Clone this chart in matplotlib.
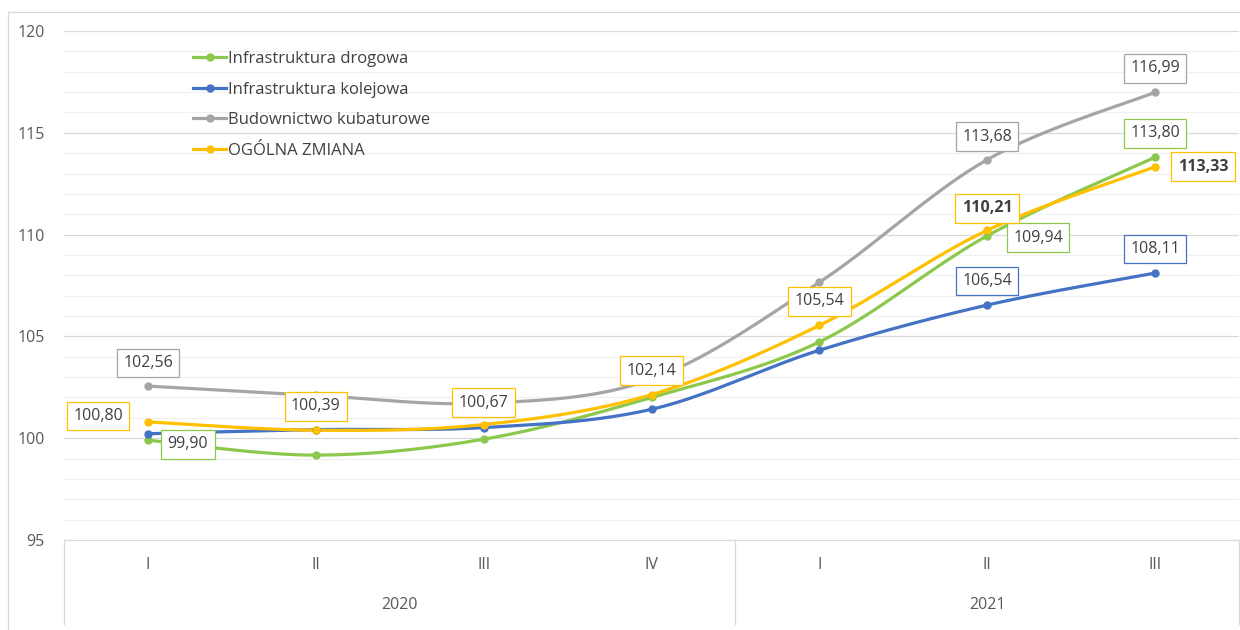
import numpy as np
import matplotlib.pyplot as plt
from matplotlib.lines import Line2D

plt.rcParams['font.family'] = ['Open Sans', 'DejaVu Sans']

quarters = ["I", "II", "III", "IV", "I", "II", "III"]
years = ["2020", "2021"]
year_span = [(0, 3), (4, 6)]

drogowa = [99.90, 99.17, 99.95, 102.00, 104.73, 109.94, 113.80]
kolejowa = [100.22, 100.42, 100.52, 101.42, 104.32, 106.54, 108.11]
kubaturowe = [102.56, 102.10, 101.72, 102.90, 107.66, 113.68, 116.99]
ogolna = [100.80, 100.39, 100.67, 102.14, 105.54, 110.21, 113.33]

names = ["Infrastruktura drogowa", "Infrastruktura kolejowa",
         "Budownictwo kubaturowe", "OGÓLNA ZMIANA"]
colors = ["#8cc84b", "#4472c4", "#a5a5a5", "#ffc000"]

# which points get a data label: (index, dx px, dy px, bold)
labels = [
    [(0, 40, -4, False), (5, 51, -2, False), (6, 0, 24, False)],
    [(5, 0, 24, False), (6, 0, 24, False)],
    [(0, 0, 23, False), (5, 0, 23, False), (6, 0, 24, False)],
    [(0, -50, 6, False), (1, 0, 24, False), (2, 0, 22, False), (3, 0, 24, False),
     (4, 0, 24, False), (5, 0, 22, True), (6, 48, 0, True)],
]


def smooth(y, n=40):
    x = np.arange(len(y), dtype=float)
    y = np.asarray(y, dtype=float)
    xs, ys = [], []
    for i in range(len(y) - 1):
        p0 = np.array([x[max(i - 1, 0)], y[max(i - 1, 0)]])
        p1 = np.array([x[i], y[i]])
        p2 = np.array([x[i + 1], y[i + 1]])
        p3 = np.array([x[min(i + 2, len(y) - 1)], y[min(i + 2, len(y) - 1)]])
        c1 = p1 + (p2 - p0) / 6
        c2 = p2 - (p3 - p1) / 6
        t = np.linspace(0, 1, n)[:, None]
        pts = (1 - t) ** 3 * p1 + 3 * (1 - t) ** 2 * t * c1 + 3 * (1 - t) * t ** 2 * c2 + t ** 3 * p2
        xs.extend(pts[:, 0])
        ys.extend(pts[:, 1])
    return xs, ys


fig = plt.figure(figsize=(12.4, 6.3), dpi=100)
ax = fig.add_axes([64 / 1240, 90 / 630, 1175 / 1240, 509 / 630])

series = [drogowa, kolejowa, kubaturowe, ogolna]
for vals, col in zip(series, colors):
    sx, sy = smooth(vals)
    ax.plot(sx, sy, color=col, lw=2.3, solid_capstyle="round", zorder=3)
    ax.plot(range(len(vals)), vals, "o", color=col, ms=5, zorder=4)

for vals, col, labs in zip(series, colors, labels):
    for i, dx, dy, bold in labs:
        ax.annotate(f"{vals[i]:.2f}".replace(".", ","), (i, vals[i]),
                    xytext=(dx * 0.72, dy * 0.72), textcoords="offset points",
                    ha="center", va="center", fontsize=11.5,
                    fontweight="bold" if bold else "normal", color="#404040",
                    bbox=dict(boxstyle="square,pad=0.4", fc="white", ec=col, lw=0.9),
                    zorder=6)

ax.set_xlim(-0.5, 6.5)
ax.set_ylim(95, 120)
ax.set_yticks(range(95, 121, 5))
ax.set_yticks(range(95, 121, 1), minor=True)
ax.grid(axis="y", which="major", color="#d9d9d9", lw=0.9)
ax.grid(axis="y", which="minor", color="#f0f0f0", lw=0.9)
ax.set_axisbelow(True)
ax.tick_params(axis="y", which="both", length=0, labelsize=11.5, labelcolor="#595959", pad=14)
ax.tick_params(axis="x", length=0, labelbottom=False)
for s in ["top", "right", "left"]:
    ax.spines[s].set_visible(False)
ax.spines["bottom"].set_color("#d9d9d9")

# category axis: quarters and years
for i, q in enumerate(quarters):
    ax.text(i, -0.05, q, transform=ax.get_xaxis_transform(), ha="center", va="center",
            fontsize=11.5, color="#595959")
for yr, (a, b) in zip(years, year_span):
    ax.text((a + b) / 2, -0.127, yr, transform=ax.get_xaxis_transform(), ha="center",
            va="center", fontsize=11.5, color="#595959")
for xv in [-0.5, 3.5, 6.5]:
    ax.add_line(Line2D([xv, xv], [0, -0.165], transform=ax.get_xaxis_transform(),
                       color="#d9d9d9", lw=0.9, clip_on=False))

handles = [Line2D([], [], color=c, lw=2.3, marker="o", ms=5) for c in colors]
ax.legend(handles, names, loc="upper left", bbox_to_anchor=(0.097, 0.99), frameon=False,
          fontsize=12, handlelength=2.0, handletextpad=0.1, labelspacing=0.87,
          labelcolor="#404040")

# chart border
fig.add_artist(Line2D([8 / 1240, 8 / 1240], [0, 618 / 630], color="#d9d9d9", lw=0.9))
fig.add_artist(Line2D([8 / 1240, 1], [618 / 630, 618 / 630], color="#d9d9d9", lw=0.9))

fig.savefig("out.png", dpi=100)
